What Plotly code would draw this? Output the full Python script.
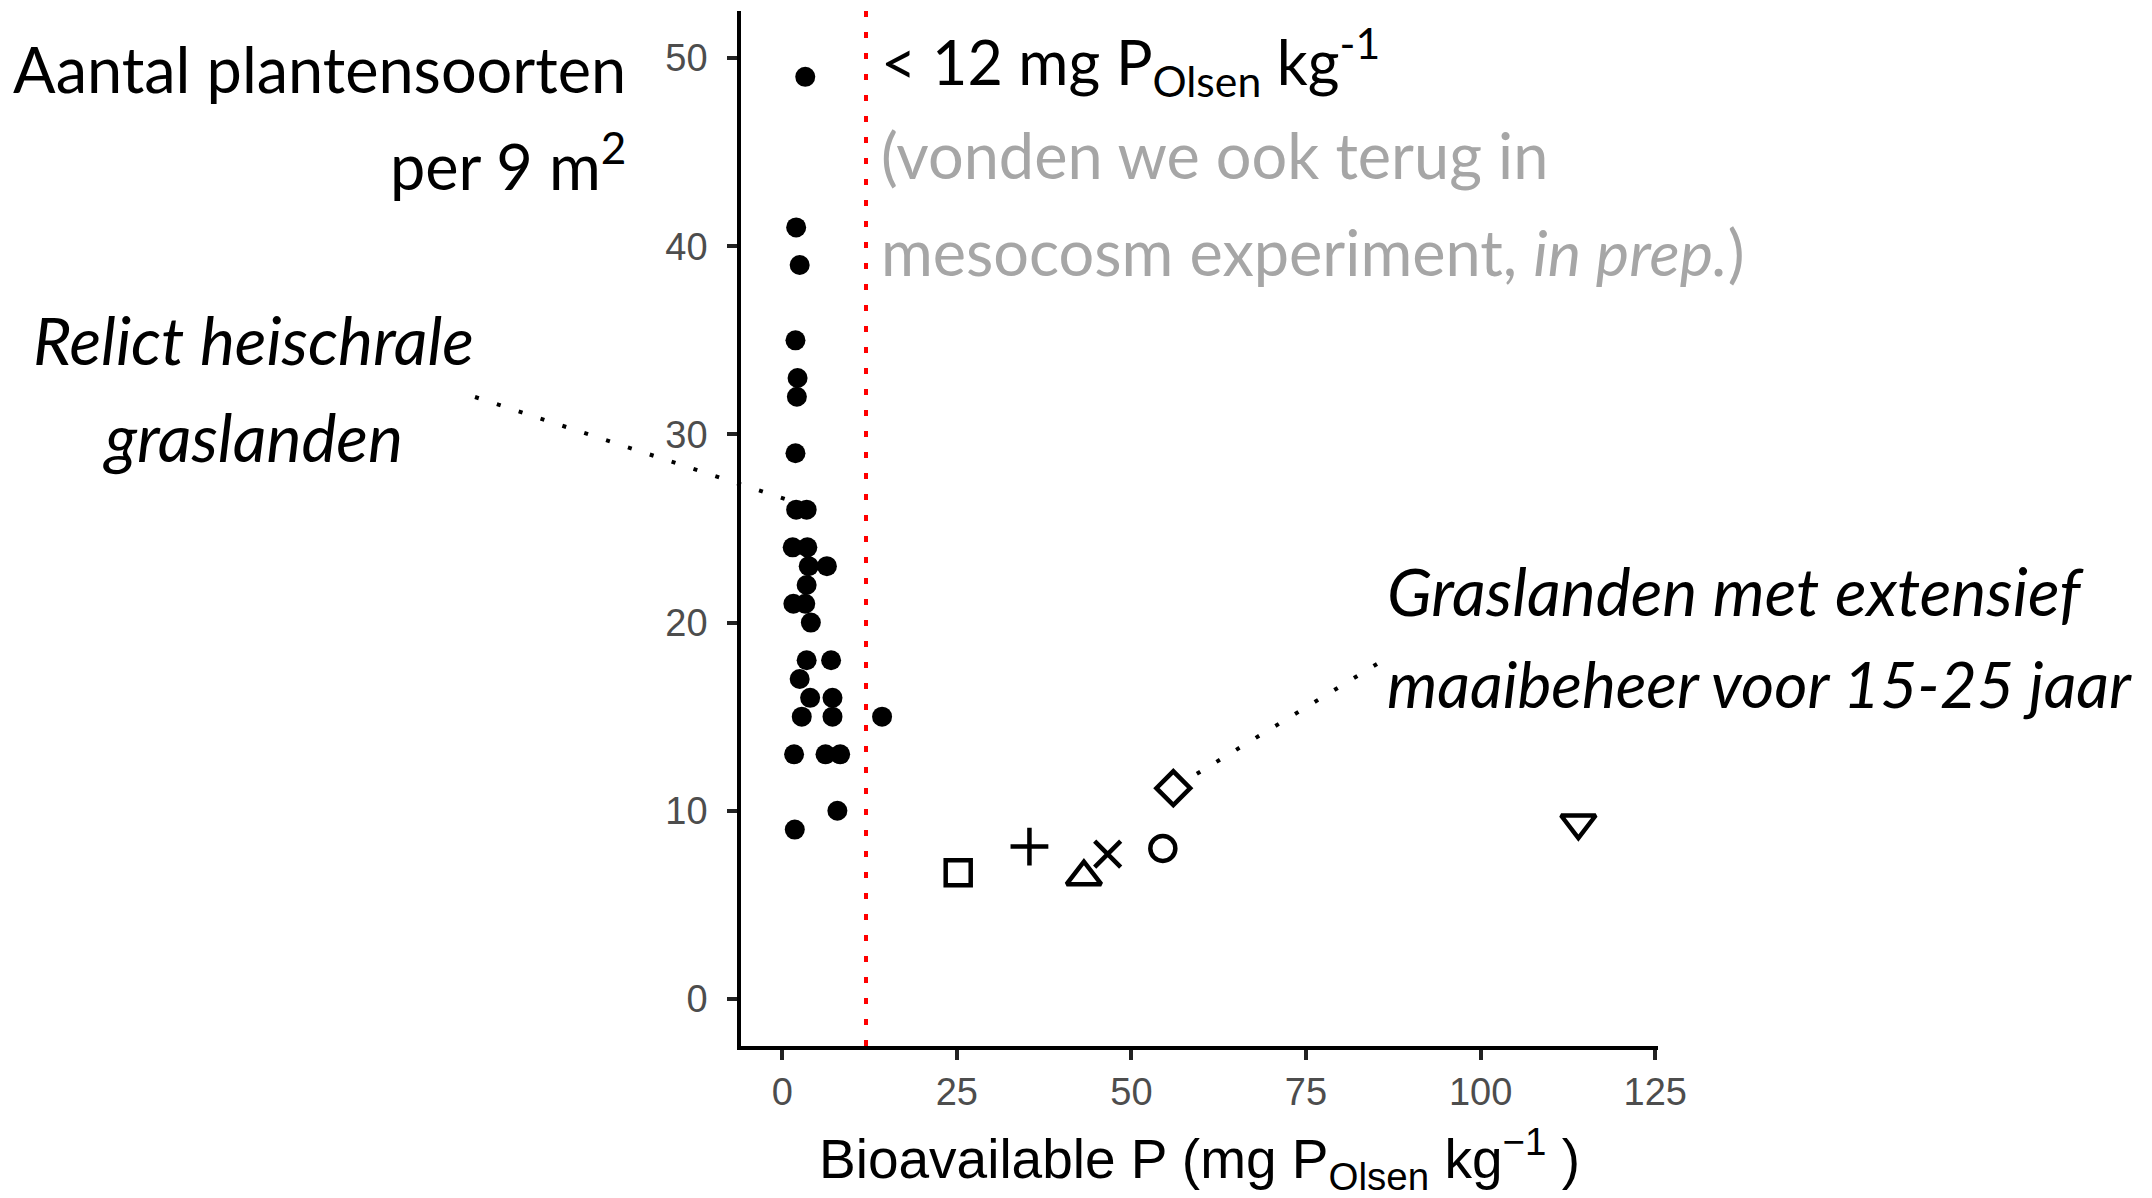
import plotly.graph_objects as go

# ---------------- data ----------------
# Relict heischrale graslanden (filled dots)
relict_p = [3.3, 2.0, 2.5, 1.9, 2.2, 2.1, 1.9, 2.0, 3.5, 1.5, 3.6, 3.8, 6.4, 3.5, 1.6, 3.3,
            4.1, 3.5, 7.0, 2.5, 4.0, 7.2, 2.8, 7.2, 14.3, 1.7, 6.2, 8.3, 7.9, 1.8]
relict_n = [49, 41, 39, 35, 33, 32, 29, 26, 26, 24, 24, 23, 23, 22, 21, 21,
            20, 18, 18, 17, 16, 16, 15, 15, 15, 13, 13, 13, 10, 9]

# Graslanden met extensief maaibeheer (open symbols)
ext_p = [25.2, 35.4, 43.2, 46.6, 54.5, 56.0, 114.0]
ext_n = [6.7, 8.1, 6.5, 7.7, 8.0, 11.2, 9.35]
ext_symbols = ["square-open", "cross-thin-open", "triangle-up-open", "x-thin-open",
               "circle-open", "diamond-open", "triangle-down-open"]
ext_sizes = [25, 27, 30, 26, 25, 26, 30]

threshold_p = 12
x_ticks = [0, 25, 50, 75, 100, 125]
y_ticks = [0, 10, 20, 30, 40, 50]
x_range = [-5.9, 125.4]
y_range = [-2.5, 52.5]
x_title = "Bioavailable P (mg P<sub>Olsen</sub> kg<sup>\u22121</sup> )"

# ---------------- figure ----------------
W, H = 2152, 1198
L, R, T, B = 741, 494, 11, 152
PW, PH = W - L - R, H - T - B


def px(xp):
    return (xp - L) / PW


def py(yp):
    return (H - B - yp) / PH


fig = go.Figure()

fig.add_trace(go.Scatter(
    x=relict_p, y=relict_n, mode="markers",
    marker=dict(symbol="circle", size=20, color="black"),
    showlegend=False, cliponaxis=False))

fig.add_trace(go.Scatter(
    x=ext_p, y=ext_n, mode="markers",
    marker=dict(symbol=ext_symbols, size=ext_sizes, color="#000000", opacity=1,
                line=dict(color="#000000", width=4.5)),
    showlegend=False, cliponaxis=False))

shapes = [
    dict(type="line", xref="x", yref="paper", x0=threshold_p, x1=threshold_p, y0=0, y1=1,
         line=dict(color="#FF0000", width=4, dash="6px,15px"), layer="below"),
    dict(type="line", xref="paper", yref="paper",
         x0=px(475), y0=py(397), x1=px(788), y1=py(500),
         line=dict(color="black", width=4, dash="4px,19px")),
    dict(type="line", xref="paper", yref="paper",
         x0=px(1377), y0=py(664), x1=px(1190), y1=py(778),
         line=dict(color="black", width=4, dash="4px,19px")),
]

FS = 63
FS_IT = 66
FONT = "Lato"
GREY = "#A6A6A6"


def ann(text, xp, yp, xanchor, color="black", size=FS, family=FONT):
    return dict(text=text, x=px(xp), y=py(yp), xref="paper", yref="paper",
                xanchor=xanchor, yanchor="middle", showarrow=False, borderpad=0,
                font=dict(family=family, size=size, color=color))


annotations = [
    ann("Aantal plantensoorten", 627, 69, "right"),
    ann("per 9 m<sup>2</sup>", 627, 162, "right"),
    ann("<i>Relict heischrale</i>", 253, 339, "center", size=FS_IT),
    ann("<i>graslanden</i>", 253, 436, "center", size=FS_IT),
    ann("&lt; 12 mg P<sub>Olsen</sub> kg<sup>-1</sup>", 880, 62, "left", size=61),
    ann("(vonden we ook terug in", 880, 155, "left", GREY),
    ann("mesocosm experiment, <i>in prep.</i>)", 880, 251, "left", GREY),
    ann("<i>Graslanden met extensief</i>", 1386, 590, "left", size=FS_IT),
    ann("<i>maaibeheer voor 15-25 jaar</i>", 1386, 683, "left", size=64),
    ann(x_title, (L + W - R) / 2, 1159, "center", size=55, family="Liberation Sans, Arial"),
]

axis_common = dict(
    showgrid=False, zeroline=False, showline=True, linecolor="black", linewidth=3.5,
    ticks="outside", ticklen=10, tickwidth=3.5, tickcolor="#222222", automargin=False,
    tickfont=dict(family="Liberation Sans, Arial", size=38, color="#4D4D4D"),
)

fig.update_layout(
    width=W, height=H, autosize=False,
    margin=dict(l=L, r=R, t=T, b=B, pad=0),
    paper_bgcolor="white", plot_bgcolor="white",
    xaxis=dict(range=x_range, tickvals=x_ticks, ticklabelstandoff=0, **axis_common),
    yaxis=dict(range=y_range, tickvals=y_ticks, ticklabelstandoff=12, **axis_common),
    shapes=shapes,
    annotations=annotations,
    showlegend=False,
)

fig.write_html("out.html")
